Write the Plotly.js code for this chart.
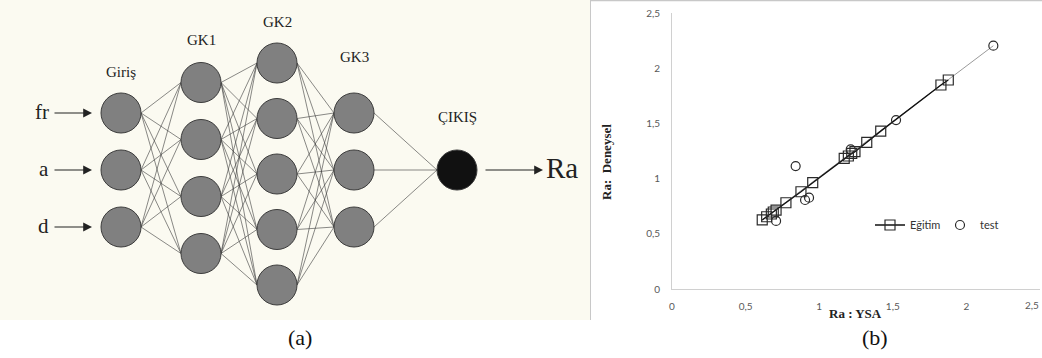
<!DOCTYPE html>
<html>
<head>
<meta charset="utf-8">
<script src="https://cdn.plot.ly/plotly-3.0.1.min.js"></script>
<style>html,body{margin:0;padding:0;background:#fff;}#chart{width:1042px;height:358px;}</style>
</head>
<body>
<div id="chart"></div>
<script>
// ---- Network diagram (a) data ----
const layerNames = ['Giriş', 'GK1', 'GK2', 'GK3', 'ÇIKIŞ'];
const layerSizes = [3, 4, 5, 3, 1];
const inputNames = ['fr', 'a', 'd'];
const outputName = 'Ra';

// ---- Scatter (b) data ----
const egitimX = [0.613, 0.643, 0.675, 0.688, 0.707, 0.774, 0.876, 0.956, 1.170, 1.198, 1.221, 1.243, 1.323, 1.418, 1.827, 1.877];
const egitimY = [0.626, 0.655, 0.680, 0.698, 0.716, 0.782, 0.882, 0.964, 1.185, 1.206, 1.230, 1.245, 1.330, 1.432, 1.850, 1.895];
const testX = [0.707, 0.840, 0.904, 0.931, 1.214, 1.522, 2.183];
const testY = [0.617, 1.115, 0.807, 0.828, 1.267, 1.532, 2.206];
const trendX = [0.613, 2.183];
const trendY = [0.626, 2.206];
const tickVals = [0, 0.5, 1, 1.5, 2];
const tickText = ['0', '0,5', '1', '1,5', '2'];
const yTickVals = [0, 0.5, 1, 1.5, 2, 2.5];
const yTickText = ['0', '0,5', '1', '1,5', '2', '2,5'];
const lastXTick = {v: 2.5, t: '2,5'};
const seriesNames = ['Eğitim', 'test'];
const xTitle = 'Ra : YSA';
const yTitle = 'Ra:  Deneysel';
const captions = ['(a)', '(b)'];

// ---- Diagram geometry (layout only) ----
const G = {
  x: [121, 201, 277, 354, 457],
  cy: [170, 168, 174, 170, 170],
  gap: [57, 57, 55.5, 57, 0],
  r: 20,
  labelY: [72, 40, 22, 57, 117]
};
const nodePos = layerSizes.map((n, li) => {
  const arr = [];
  for (let k = 0; k < n; k++) arr.push(G.cy[li] + (k - (n - 1) / 2) * G.gap[li]);
  return arr;
});

const lx = [], ly = [];
for (let li = 0; li < layerSizes.length - 1; li++) {
  nodePos[li].forEach(y0 => {
    nodePos[li + 1].forEach(y1 => {
      lx.push(G.x[li] + G.r, G.x[li + 1] - G.r, null);
      ly.push(y0, y1, null);
    });
  });
}
const nx = [], ny = [], nc = [];
nodePos.forEach((arr, li) => arr.forEach(y => {
  nx.push(G.x[li]); ny.push(y);
  nc.push(li === layerSizes.length - 1 ? '#111111' : '#808080');
}));

const traces = [
  {x: lx, y: ly, xaxis: 'x2', yaxis: 'y2', mode: 'lines', line: {color: '#3a3a3a', width: 0.6},
   showlegend: false, hoverinfo: 'skip'},
  {x: nx, y: ny, xaxis: 'x2', yaxis: 'y2', mode: 'markers',
   marker: {size: 2 * G.r, color: nc, line: {color: '#3c3c3c', width: 1}},
   showlegend: false, hoverinfo: 'skip'},
  {x: trendX, y: trendY, mode: 'lines', line: {color: '#9a9a9a', width: 1}, showlegend: false, hoverinfo: 'skip'},
  {x: egitimX, y: egitimY, name: seriesNames[0], mode: 'lines+markers',
   line: {color: '#111111', width: 1.4},
   marker: {symbol: 'square-open', size: 10, color: '#2a2a2a', line: {width: 1.2}}},
  {x: testX, y: testY, name: seriesNames[1], mode: 'markers',
   marker: {symbol: 'circle-open', size: 9, color: '#2a2a2a', line: {width: 1.2}}}
];

const serif = 'Liberation Serif, Times New Roman, serif';
const tickFont = {family: 'Lato, Open Sans, sans-serif', size: 10, color: '#595959'};
const annotations = [];
layerNames.forEach((t, li) => annotations.push({
  xref: 'x2', yref: 'y2', x: G.x[li], y: G.labelY[li], text: t, showarrow: false,
  font: {family: serif, size: 15, color: '#222'}, xanchor: 'center', yanchor: 'middle'
}));
inputNames.forEach((t, k) => {
  const y = nodePos[0][k];
  annotations.push({xref: 'x2', yref: 'y2', x: 51, y: y, text: t, showarrow: false,
    font: {family: serif, size: 21, color: '#222'}, xanchor: 'right', yanchor: 'middle', yshift: 1});
  annotations.push({xref: 'x2', yref: 'y2', axref: 'x2', ayref: 'y2', x: 92, y: y, ax: 53, ay: y,
    text: '', showarrow: true, arrowhead: 2, arrowsize: 1.6, arrowwidth: 1.1, arrowcolor: '#222'});
});
annotations.push({xref: 'x2', yref: 'y2', axref: 'x2', ayref: 'y2', x: 543, y: G.cy[4], ax: 484, ay: G.cy[4],
  text: '', showarrow: true, arrowhead: 2, arrowsize: 1.6, arrowwidth: 1.1, arrowcolor: '#222'});
annotations.push({xref: 'x2', yref: 'y2', x: 544, y: G.cy[4], text: outputName, showarrow: false,
  font: {family: serif, size: 29, color: '#222'}, xanchor: 'left', yanchor: 'middle', yshift: 2});
annotations.push({xref: 'x', yref: 'paper', x: lastXTick.v, y: (358 - 305) / 358, text: lastXTick.t,
  showarrow: false, font: tickFont, xanchor: 'right', xshift: 1, yanchor: 'middle'});
annotations.push({xref: 'paper', yref: 'paper', x: 855 / 1042, y: (358 - 313) / 358, text: '<b>' + xTitle + '</b>',
  showarrow: false, font: {family: serif, size: 13, color: '#222'}, xanchor: 'center', yanchor: 'middle'});
annotations.push({xref: 'paper', yref: 'paper', x: 606 / 1042, y: (358 - 162) / 358, text: '<b>' + yTitle + '</b>',
  showarrow: false, textangle: -90, font: {family: serif, size: 13, color: '#222'}, xanchor: 'center', yanchor: 'middle'});
annotations.push({xref: 'paper', yref: 'paper', x: 300 / 1042, y: (358 - 337) / 358, text: captions[0],
  showarrow: false, font: {family: serif, size: 22, color: '#111'}, xanchor: 'center', yanchor: 'middle'});
annotations.push({xref: 'paper', yref: 'paper', x: 875 / 1042, y: (358 - 337) / 358, text: captions[1],
  showarrow: false, font: {family: serif, size: 22, color: '#111'}, xanchor: 'center', yanchor: 'middle'});

const layout = {
  width: 1042, height: 358,
  margin: {l: 0, r: 0, t: 0, b: 0, pad: 0, autoexpand: false},
  paper_bgcolor: '#ffffff', plot_bgcolor: 'rgba(0,0,0,0)',
  showlegend: true,
  legend: {orientation: 'h', x: 870 / 1042, y: (358 - 225) / 358, xanchor: 'left', yanchor: 'middle',
    bgcolor: 'rgba(0,0,0,0)', font: {family: 'Lato, Open Sans, sans-serif', size: 11, color: '#333'},
    itemwidth: 30, tracegroupgap: 0, entrywidth: 25, entrywidthmode: 'pixels'},
  xaxis: {domain: [672 / 1042, 1040 / 1042], range: [0, 2.5], showline: true, linecolor: '#d0d0d0', linewidth: 1,
    showgrid: false, zeroline: false, ticks: '', tickvals: tickVals, ticktext: tickText, tickfont: tickFont,
    ticklabelstandoff: 8, fixedrange: true, automargin: false},
  yaxis: {domain: [(358 - 289) / 358, (358 - 13.3) / 358], range: [0, 2.5], showline: true, linecolor: '#d0d0d0', linewidth: 1,
    showgrid: false, zeroline: false, ticks: '', tickvals: yTickVals, ticktext: yTickText, tickfont: tickFont,
    ticklabelstandoff: 9, fixedrange: true, automargin: false},
  xaxis2: {domain: [0, 590 / 1042], range: [0, 590], visible: false, anchor: 'y2', fixedrange: true},
  yaxis2: {domain: [38 / 358, 1], range: [320, 0], visible: false, anchor: 'x2', fixedrange: true},
  shapes: [
    {type: 'rect', xref: 'paper', yref: 'paper', x0: 0, x1: 590 / 1042, y0: 38 / 358, y1: 1,
     fillcolor: '#fbfaf1', line: {width: 0}, layer: 'below'},
    {type: 'line', xref: 'paper', yref: 'paper', x0: 590.5 / 1042, x1: 590.5 / 1042, y0: 38 / 358, y1: 1,
     line: {color: '#c8c8c8', width: 1}},
    {type: 'line', xref: 'paper', yref: 'paper', x0: 590 / 1042, x1: 1, y0: 357.5 / 358, y1: 357.5 / 358,
     line: {color: '#c8c8c8', width: 1.5}}
  ],
  annotations: annotations
};

Plotly.newPlot('chart', traces, layout, {staticPlot: true, displayModeBar: false});
</script>
</body>
</html>
